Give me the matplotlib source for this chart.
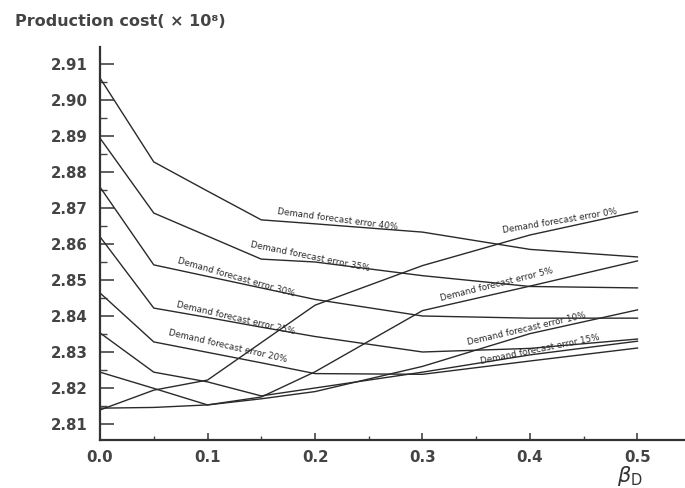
# Production cost vs beta_D for several demand forecast errors
import matplotlib
matplotlib.use("Agg")
import matplotlib.pyplot as plt
from matplotlib.ticker import MultipleLocator, FormatStrFormatter

# beta_D sample points
beta = [0.0, 0.05, 0.1, 0.15, 0.2, 0.3, 0.4, 0.5]

# production cost (x10^8) for each forecast error
err40 = [2.9061, 2.8828, 2.8747, 2.8667, 2.8656, 2.8633, 2.8585, 2.8564]
err35 = [2.8894, 2.8686, 2.8622, 2.8558, 2.8550, 2.8512, 2.8482, 2.8478]
err30 = [2.8758, 2.8542, 2.8510, 2.8478, 2.8446, 2.8400, 2.8394, 2.8394]
err25 = [2.8620, 2.8422, 2.8396, 2.8369, 2.8343, 2.8300, 2.8310, 2.8336]
err20 = [2.8464, 2.8328, 2.8299, 2.8270, 2.8240, 2.8238, 2.8275, 2.8311]
err15 = [2.8353, 2.8244, 2.8217, 2.8178, 2.8200, 2.8244, 2.8292, 2.8330]
err10 = [2.8244, 2.8199, 2.8153, 2.8170, 2.8190, 2.8260, 2.8351, 2.8417]
err05 = [2.8144, 2.8146, 2.8153, 2.8175, 2.8245, 2.8415, 2.8483, 2.8553]
err00 = [2.8139, 2.8194, 2.8222, 2.8326, 2.8430, 2.8540, 2.8625, 2.8690]

series = [err40, err35, err30, err25, err20, err15, err10, err05, err00]
names = ["40%", "35%", "30%", "25%", "20%", "15%", "10%", "5%", "0%"]

# where the in-line labels sit (data coords) and their screen angle
label_x = [0.2214, 0.1953, 0.1265, 0.1265, 0.1191, 0.4093, 0.3972, 0.3693, 0.4279]
label_y = [2.8667, 2.8566, 2.8508, 2.8394, 2.8317, 2.8308, 2.8364, 2.8486, 2.8663]
label_rot = [-7.5, -11.5, -16, -13, -13, 11.5, 13, 14, 9.5]

ink = "#2a2a2a"

fig = plt.figure(figsize=(6.85, 4.88), dpi=100)
ax = fig.add_axes([0.146, 0.0984, 0.854, 0.8053])

for ys in series:
    ax.plot(beta, ys, color=ink, lw=1.0)

for name, lx, ly, rot in zip(names, label_x, label_y, label_rot):
    ax.text(lx, ly, "Demand forecast error " + name, fontsize=6.3, color=ink,
            rotation=rot, rotation_mode="anchor", ha="center", va="center",
            family="DejaVu Sans")

ax.set_xlim(0, 0.5442)
ax.set_ylim(2.80556, 2.91472)

for side in ("top", "right"):
    ax.spines[side].set_visible(False)
for side in ("left", "bottom"):
    ax.spines[side].set_linewidth(1.6)
    ax.spines[side].set_color("#333333")

ax.xaxis.set_major_locator(MultipleLocator(0.1))
ax.xaxis.set_minor_locator(MultipleLocator(0.05))
ax.yaxis.set_major_locator(MultipleLocator(0.01))
ax.yaxis.set_minor_locator(MultipleLocator(0.005))
ax.xaxis.set_major_formatter(FormatStrFormatter("%.1f"))
ax.yaxis.set_major_formatter(FormatStrFormatter("%.2f"))

ax.tick_params(axis="y", which="major", direction="in", length=10, width=1.2,
               pad=9, colors="#444444", labelsize=10.8)
ax.tick_params(axis="y", which="minor", direction="in", length=5, width=1.0,
               colors="#444444")
ax.tick_params(axis="x", which="major", direction="in", length=5, width=1.2,
               pad=7, colors="#444444", labelsize=10.8)
ax.tick_params(axis="x", which="minor", direction="in", length=3, width=1.0,
               colors="#444444")
for lab in ax.get_xticklabels() + ax.get_yticklabels():
    lab.set_fontweight("bold")
    lab.set_family("DejaVu Sans")

fig.text(0.022, 0.972, "Production cost( \u00d7 10\u2078)", fontsize=11.5,
         fontweight="bold", color="#444444", ha="left", va="top",
         family="DejaVu Sans")
fig.text(0.92, 0.025, r"$\beta_{\rm D}$", fontsize=15, color="#333333",
         ha="center", va="center")

fig.savefig("out.png", dpi=100)
